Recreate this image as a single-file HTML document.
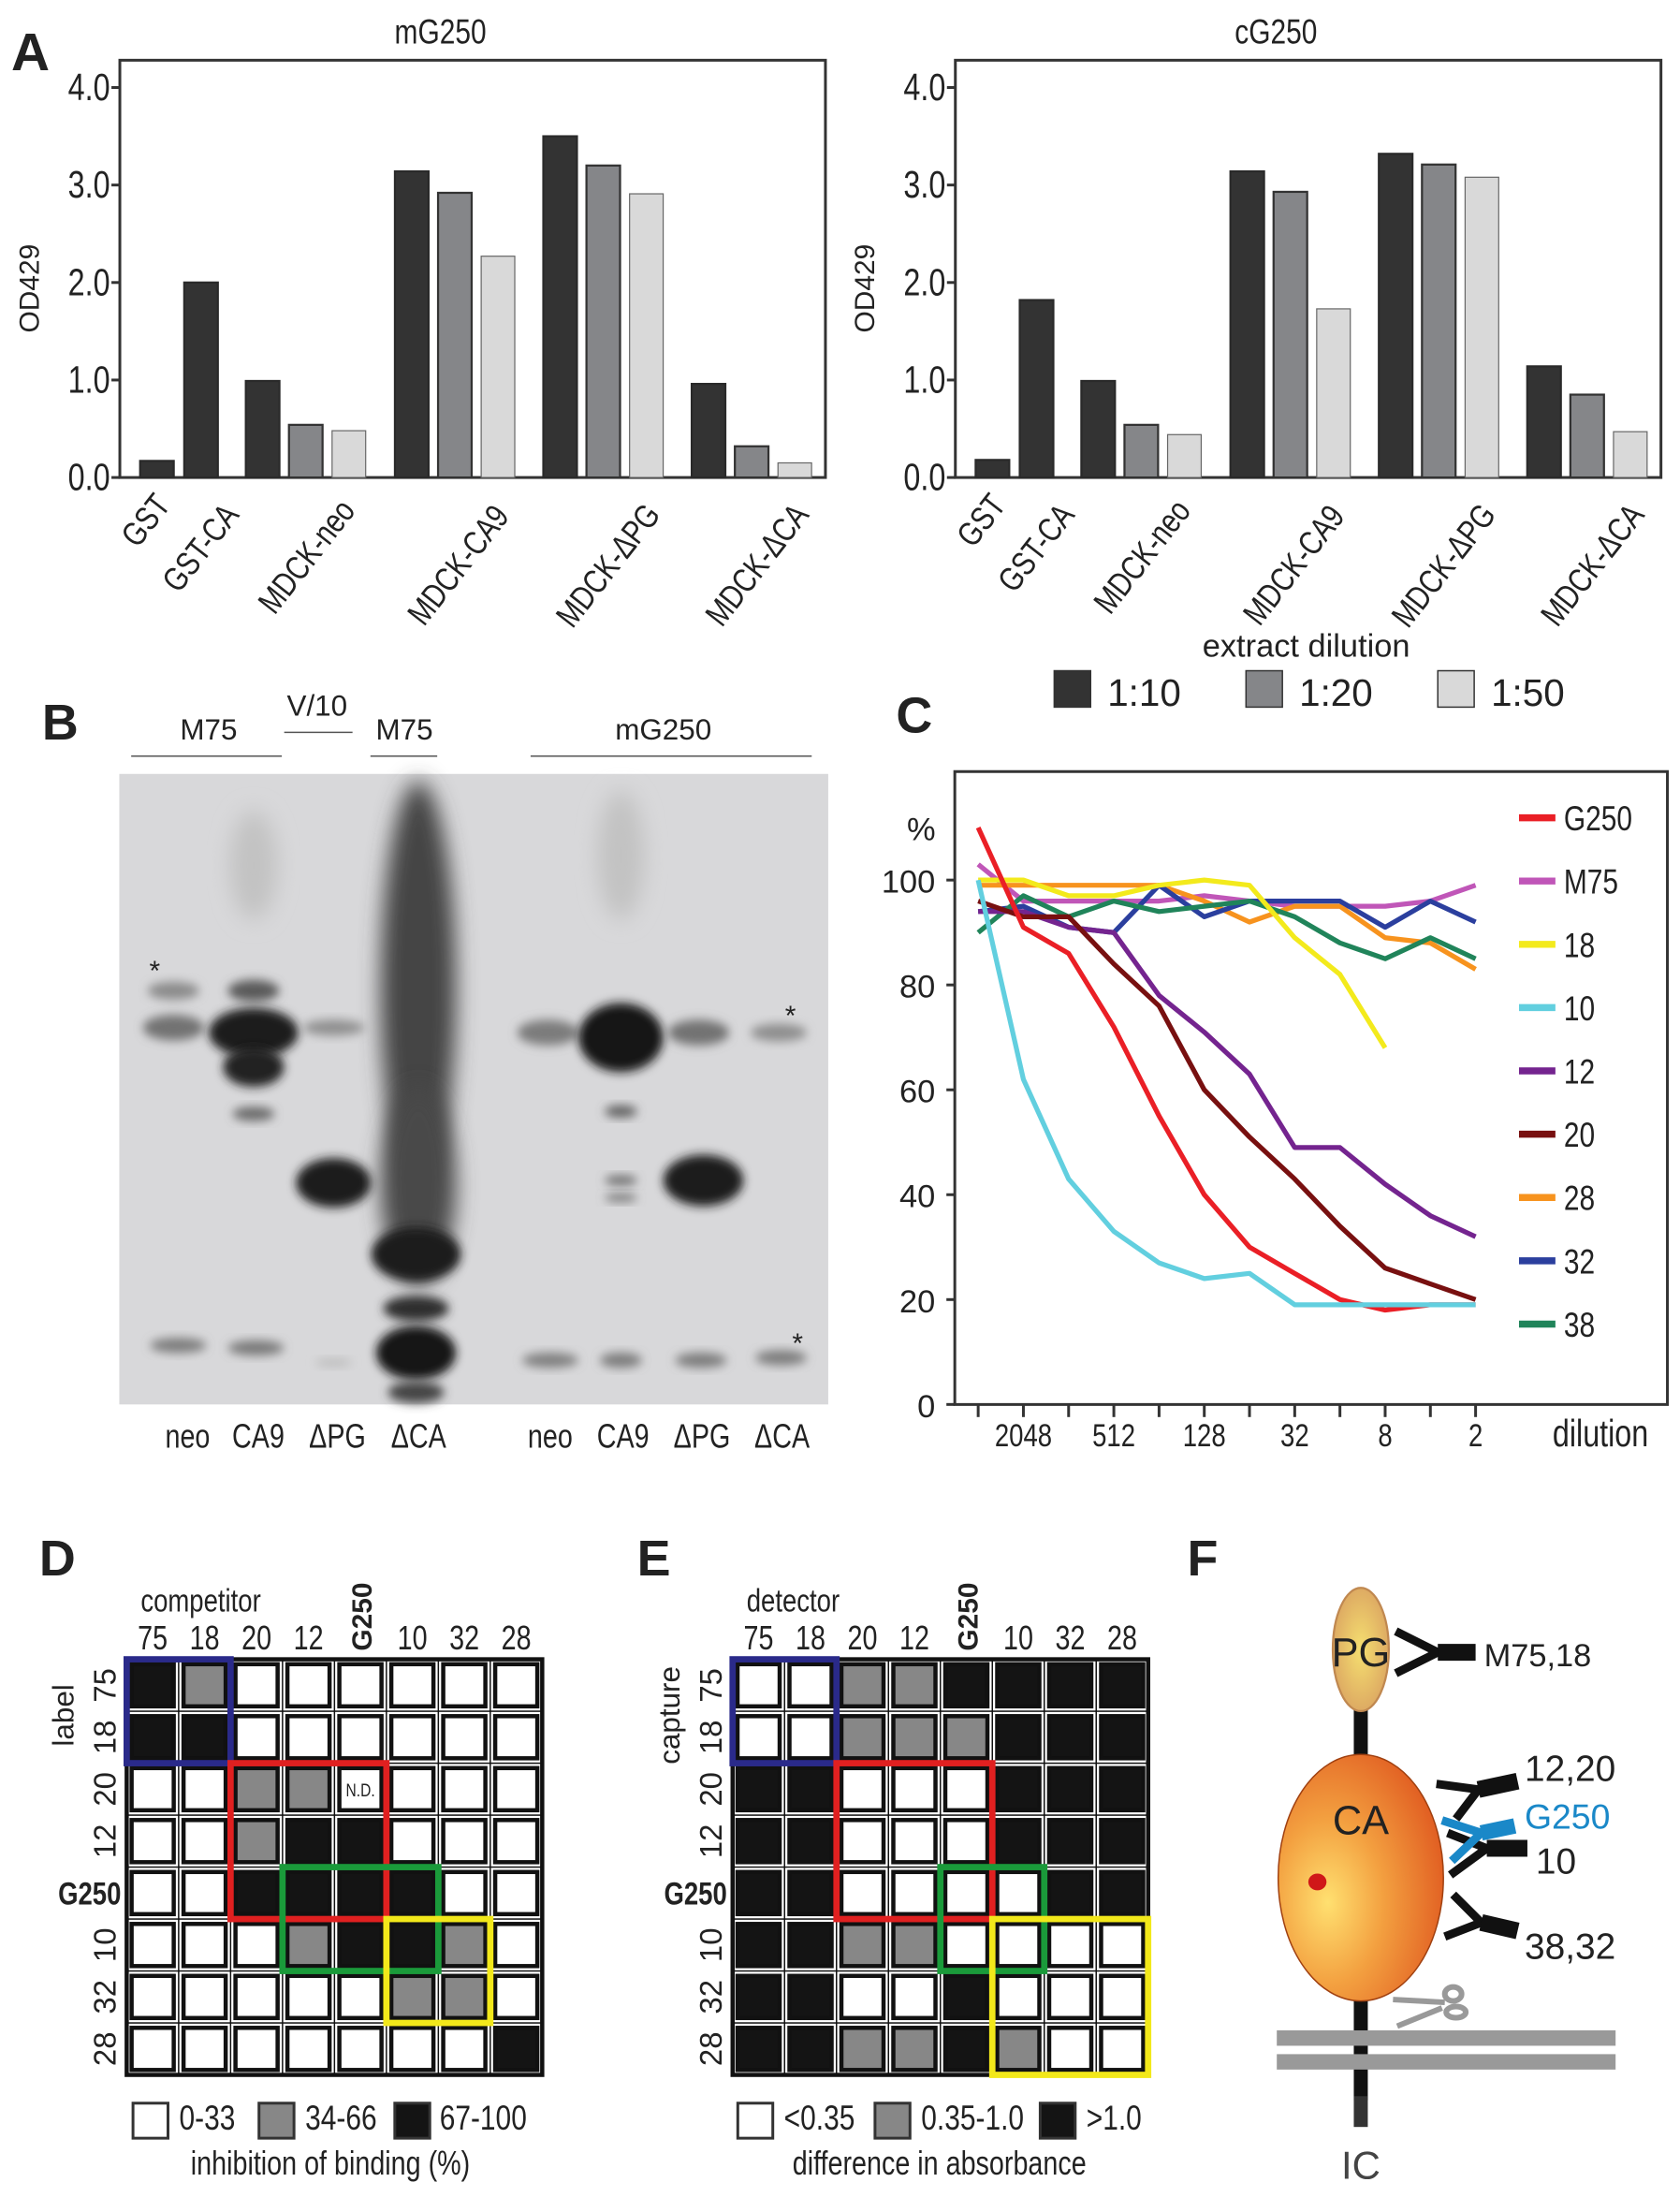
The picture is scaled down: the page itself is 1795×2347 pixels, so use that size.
<!DOCTYPE html>
<html><head><meta charset="utf-8"><style>
html,body{margin:0;padding:0;background:#fff;}
svg{display:block;}
text{font-family:"Liberation Sans",sans-serif;fill:#222;}
</style></head><body>
<svg id="fig" xmlns="http://www.w3.org/2000/svg" width="1795" height="2347" viewBox="0 0 1200 1569">
<defs>
<filter id="blur" x="-50%" y="-50%" width="200%" height="200%"><feGaussianBlur stdDeviation="10"/></filter>
<filter id="blur2" x="-50%" y="-50%" width="200%" height="200%"><feGaussianBlur stdDeviation="22"/></filter>
<radialGradient id="caGrad" cx="0.3" cy="0.6" r="0.75"><stop offset="0" stop-color="#ffe070"/><stop offset="0.45" stop-color="#f3a040"/><stop offset="1" stop-color="#e05a20"/></radialGradient>
<radialGradient id="pgGrad" cx="0.5" cy="0.5" r="0.6"><stop offset="0" stop-color="#f5df70"/><stop offset="1" stop-color="#d9a060"/></radialGradient>
</defs>
<rect width="1200" height="1569" fill="#fff"/>

<text x="8" y="50" font-size="38" font-weight="bold">A</text>
<text x="30" y="528" font-size="36" font-weight="bold">B</text>
<text x="640" y="523" font-size="36" font-weight="bold">C</text>
<text x="28" y="1125" font-size="36" font-weight="bold">D</text>
<text x="455" y="1125" font-size="36" font-weight="bold">E</text>
<text x="848" y="1125" font-size="36" font-weight="bold">F</text>

<g id="panelA"></g>
<g id="panelB"></g>
<g id="panelC"></g>
<g id="panelD"></g>
<g id="panelE"></g>

<g id="panelF">
  <rect x="967" y="1200" width="10" height="300" fill="#111"/>
  <rect x="967" y="1497" width="10" height="22" fill="#333"/>
  <ellipse cx="972" cy="1178" rx="20" ry="44" fill="url(#pgGrad)" stroke="#c08850" stroke-width="1.5"/>
  <ellipse cx="972" cy="1341" rx="59" ry="88" fill="url(#caGrad)" stroke="#a04010" stroke-width="1"/>
  <ellipse cx="941" cy="1344" rx="6.5" ry="6" fill="#d01818"/>
  <rect x="912" y="1450" width="242" height="11" fill="#999"/>
  <rect x="912" y="1467" width="242" height="11" fill="#999"/>
  <g fill="none" stroke="#999" stroke-width="4">
    <path d="M995 1428 L1032 1430 M998 1447 L1030 1434"/>
    <ellipse cx="1038" cy="1424" rx="6" ry="5"/>
    <ellipse cx="1040" cy="1437" rx="7" ry="4"/>
  </g>
  <g stroke="#111" fill="none">
    <path d="M997 1165 L1027 1180 L997 1195" stroke-width="6"/>
    <path d="M1027 1180 L1054 1180" stroke-width="12"/>
  </g>
  <g stroke="#111" fill="none">
    <path d="M1026 1274 L1056 1278 L1040 1299" stroke-width="6"/>
    <path d="M1056 1278 L1084 1272" stroke-width="12"/>
  </g>
  <g stroke="#111" fill="none">
    <path d="M1034 1309 L1062 1320 L1036 1339" stroke-width="6"/>
    <path d="M1062 1320 L1091 1320" stroke-width="12"/>
  </g>
  <g stroke="#1a88c8" fill="none">
    <path d="M1030 1300 L1058 1309 L1037 1329" stroke-width="6"/>
    <path d="M1058 1309 L1082 1304" stroke-width="11"/>
  </g>
  <g stroke="#111" fill="none">
    <path d="M1038 1353 L1058 1373 L1032 1383" stroke-width="6"/>
    <path d="M1058 1373 L1084 1379" stroke-width="12"/>
  </g>
  <text x="972" y="1190" font-size="29" text-anchor="middle" fill="#111">PG</text>
  <text x="972" y="1310" font-size="29" text-anchor="middle" fill="#111">CA</text>
  <text x="1060" y="1190" font-size="23">M75,18</text>
  <text x="1089" y="1272" font-size="26">12,20</text>
  <text x="1089" y="1306" font-size="25" style="fill:#1a88c8">G250</text>
  <text x="1097" y="1338" font-size="26">10</text>
  <text x="1089" y="1399" font-size="26">38,32</text>
  <text x="972" y="1556" font-size="28" text-anchor="middle" style="fill:#444">IC</text>
</g>
</svg>
<script>
var NS='http://www.w3.org/2000/svg';
function mk(parent,tag,attrs,txt){var e=document.createElementNS(NS,tag);for(var k in attrs)e.setAttribute(k,attrs[k]);if(txt!==undefined)e.textContent=txt;parent.appendChild(e);return e;}
// narrow text: emulate condensed font with horizontal scale
function nt(parent,x,y,str,size,anchor,rot,extra){
  var a={x:0,y:0,'font-size':size,'text-anchor':anchor||'start',transform:'translate('+x+','+y+') rotate('+(rot||0)+') scale(0.8,1)'};
  if(extra)for(var k in extra)a[k]=extra[k];
  return mk(parent,'text',a,str);
}

/* ---------- Panel A data ---------- */
var aCategories=['GST','GST-CA','MDCK-neo','MDCK-CA9','MDCK-\u0394PG','MDCK-\u0394CA'];
var aDilutions=['1:10','1:20','1:50'];
var mG250_110=[0.17,2.0,0.99,3.14,3.5,0.96];
var mG250_120=[null,null,0.54,2.92,3.2,0.32];
var mG250_150=[null,null,0.48,2.27,2.91,0.15];
var cG250_110=[0.18,1.82,0.99,3.14,3.32,1.14];
var cG250_120=[null,null,0.54,2.93,3.21,0.85];
var cG250_150=[null,null,0.44,1.73,3.08,0.47];
var aTicks=[0,1,2,3,4];

var pA=document.getElementById('panelA');
var barFill=['#333333','#858689','#d9d9d9'];
var barStroke=['#2a2a2a','#333','#666'];
function drawBarChart(ox,title,s1,s2,s3,nm){
  var g=mk(pA,'g',{});
  
  
  var L=ox,R=ox+504,T=43,B=341;
  function y(v){return B-(v/4)*(B-62.5);}
  var fr=mk(g,'rect',{x:L,y:T,width:R-L,height:B-T,fill:'none',stroke:'#333','stroke-width':2});
  
  
  var t=nt(g,L+229,31,title,25,'middle');
  
  
  aTicks.forEach(function(v){
    var tk=mk(g,'line',{x1:L-6,x2:L,y1:y(v),y2:y(v),stroke:'#333','stroke-width':2});
    
    
    var tl=nt(g,L-7,y(v)+9,v.toFixed(1),27,'end');
    
    
  });
  var yl=mk(g,'text',{x:0,y:0,'font-size':20,'text-anchor':'middle',transform:'translate('+(L-58)+','+(B-135)+') rotate(-90)'},'OD429');
  
  
  var groupStarts=[14.5,46,90,196.5,302.5,408.5];
  var series=[s1,s2,s3];
  for(var c=0;c<aCategories.length;c++){
    for(var s=0;s<3;s++){
      var v=series[s][c]; if(v===null)continue;
      var bx=L+groupStarts[c]+s*30.8;
      var b=mk(g,'rect',{x:bx,y:y(v),width:24,height:B-y(v),fill:barFill[s],stroke:barStroke[s],'stroke-width':s==2?0.8:1.5});
      
      
    }
  }
  var labEnds=[[37,355],[86,362],[169,359],[279,363],[387,362],[493,362]];
  for(var c2=0;c2<aCategories.length;c2++){
    var xl=nt(g,L+labEnds[c2][0],labEnds[c2][1]+6,aCategories[c2],24,'end',-52);
    
    
  }
}
drawBarChart(85.6,'mG250',mG250_110,mG250_120,mG250_150,'mg250-bar-chart');
drawBarChart(682.4,'cG250',cG250_110,cG250_120,cG250_150,'cg250-bar-chart');
var lgA=mk(pA,'g',{});


var lt=mk(lgA,'text',{x:933,y:469,'font-size':23,'text-anchor':'middle'},'extract dilution');


var lgX=[753,890,1027];
for(var i=0;i<3;i++){
  var lb=mk(lgA,'rect',{x:lgX[i],y:479,width:26,height:26,fill:barFill[i],stroke:'#333','stroke-width':1});
  
  
  var ltx=mk(lgA,'text',{x:lgX[i]+38,y:504,'font-size':27},aDilutions[i]);
  
  
}

/* ---------- Panel B gel ---------- */
var pB=document.getElementById('panelB');
var gelHdr=[['M75',149,528,93.7,201.3,540],['V/10',226.5,511,203,251.8,523],['M75',288.8,528,264.6,312.3,540],['mG250',473.8,528,379,579.8,540]];
gelHdr.forEach(function(h){
  var t=mk(pB,'text',{x:h[1],y:h[2],'font-size':21,'text-anchor':'middle'},h[0]);
  
  
  var l=mk(pB,'line',{x1:h[3],x2:h[4],y1:h[5],y2:h[5],stroke:'#555','stroke-width':1});
  
  
});
var gelBg=mk(pB,'rect',{x:85.2,y:552.7,width:506.4,height:450.3,fill:'#d8d8da'});


var gg=mk(pB,'g',{transform:'translate(80.2,494.7) scale(0.3364,0.3518)'});


var bands=[
 [130,605,55,18,'#8a8a8a',1],[130,680,65,26,'#727272',1],[140,1325,60,15,'#7a7a7a',1],
 [300,350,50,110,'#c2c2c2',2],[300,605,55,22,'#5a5a5a',1],[300,690,95,50,'#1a1a1a',1],[300,760,65,40,'#222',1],[300,855,45,14,'#666',1],[305,1330,60,15,'#777',1],
 [470,680,65,16,'#8e8e8e',1],[470,995,80,50,'#1e1e1e',1],[470,1360,40,8,'#bbb',1],
 [650,600,80,420,'#454545',2],[650,1000,80,200,'#4a4a4a',2],[645,1140,95,55,'#1c1c1c',1],[645,1250,70,26,'#2e2e2e',1],[645,1340,85,55,'#161616',1],[645,1420,60,22,'#444',1],
 [925,690,65,26,'#7c7c7c',1],[930,1355,60,15,'#7e7e7e',1],
 [1080,330,50,130,'#c2c2c2',2],[1080,700,90,70,'#171717',1],[1080,850,35,12,'#5c5c5c',1],[1080,990,35,10,'#6a6a6a',1],[1080,1025,35,9,'#7a7a7a',1],[1080,1355,45,15,'#7a7a7a',1],
 [1245,690,65,26,'#727272',1],[1255,990,85,52,'#1c1c1c',1],[1250,1355,55,15,'#7a7a7a',1],
 [1415,690,60,18,'#8e8e8e',1],[1420,1350,55,15,'#7a7a7a',1]
];
bands.forEach(function(b){
  var e=mk(gg,'ellipse',{cx:b[0],cy:b[1],rx:b[2],ry:b[3],fill:b[4],filter:b[5]==2?'url(#blur2)':'url(#blur)'});
  
  
});
[[110.5,700],[564.6,732],[569.7,966]].forEach(function(s){
  var t=mk(pB,'text',{x:s[0],y:s[1],'font-size':20,'text-anchor':'middle'},'*');
  
  
});
var laneLbl=[['neo',134],['CA9',184.5],['\u0394PG',241],['\u0394CA',299],['neo',393],['CA9',445],['\u0394PG',501.4],['\u0394CA',558.6]];
laneLbl.forEach(function(l){
  var t=nt(pB,l[1],1034,l[0],24,'middle');
  
  
});

/* ---------- Panel C data ---------- */
var cDilutionLog2=[12,11,10,9,8,7,6,5,4,3,2,1];
var cTickLabels=['2048','512','128','32','8','2'];
var cTickLog2=[11,9,7,5,3,1];
var cYTicks=[0,20,40,60,80,100];
var cNames=['G250','M75','18','10','12','20','28','32','38'];
var cColors=['#ea1f26','#c056b8','#f3ea1c','#62cfdf','#74248f','#781010','#f7931e','#2b3f9e','#20845a'];
var sG250=[110,91,86,72,55,40,30,25,20,18,19,19];
var sM75=[103,96,96,96,96,97,96,95,95,95,96,99];
var s18=[100,100,97,97,99,100,99,89,82,68];
var s10=[100,62,43,33,27,24,25,19,19,19,19,19];
var s12=[94,94,91,90,78,71,63,49,49,42,36,32];
var s20=[96,93,93,84,76,60,51,43,34,26,23,20];
var s28=[99,99,99,99,99,96,92,95,95,89,88,83];
var s32=[94,95,91,90,99,93,96,96,96,91,96,92];
var s38=[90,97,93,96,94,95,96,93,88,85,89,85];
var cSeries=[sG250,sM75,s18,s10,s12,s20,s28,s32,s38];

var pC=document.getElementById('panelC');
function cx(l2){return 1054-(l2-1)*32.3;}
function cy(v){return 1003-v*3.745;}
var cf=mk(pC,'path',{d:'M682 551 H1191 V1003 H682 Z',fill:'none',stroke:'#333','stroke-width':2});


cYTicks.forEach(function(v){
  var tk=mk(pC,'line',{x1:676,x2:682,y1:cy(v),y2:cy(v),stroke:'#333','stroke-width':2});
  
  
  var tl=mk(pC,'text',{x:668,y:cy(v)+9,'font-size':23,'text-anchor':'end'},String(v));
  
  
});
var pct=mk(pC,'text',{x:658,y:600,'font-size':23,'text-anchor':'middle'},'%');


cDilutionLog2.forEach(function(l2){
  var tk=mk(pC,'line',{x1:cx(l2),x2:cx(l2),y1:1003,y2:1012,stroke:'#333','stroke-width':2});
  
  
});
cTickLabels.forEach(function(lab,i){
  var t=nt(pC,cx(cTickLog2[i]),1033,lab,23,'middle');
  
  
});
var dl=nt(pC,1109,1033,'dilution',27,'start');


var drawOrder=[1,6,7,8,2,4,5,0,3];
drawOrder.forEach(function(si){
  var d='';
  cSeries[si].forEach(function(v,i){d+=(i?' L':'M')+cx(cDilutionLog2[i]).toFixed(1)+' '+cy(v).toFixed(1);});
  var p=mk(pC,'path',{d:d,fill:'none',stroke:cColors[si],'stroke-width':3.5,'stroke-linejoin':'round'});
  
  
});
cNames.forEach(function(n,i){
  var y=584+i*45.2;
  var l=mk(pC,'line',{x1:1085,x2:1111,y1:y,y2:y,stroke:cColors[i],'stroke-width':5});
  
  
  var t=nt(pC,1117,y+9,n,25,'start');
  
  
});

/* ---------- Panels D & E data ---------- */
var mLabels=['75','18','20','12','G250','10','32','28'];
var dValues=[
 [2,1,0,0,0,0,0,0],
 [2,2,0,0,0,0,0,0],
 [0,0,1,1,-1,0,0,0],
 [0,0,1,2,2,0,0,0],
 [0,0,2,2,2,2,0,0],
 [0,0,0,1,2,2,1,0],
 [0,0,0,0,0,1,1,0],
 [0,0,0,0,0,0,0,2]];
var eValues=[
 [0,0,1,1,2,2,2,2],
 [0,0,1,1,1,2,2,2],
 [2,2,0,0,0,2,2,2],
 [2,2,0,0,0,2,2,2],
 [2,2,0,0,0,0,2,2],
 [2,2,1,1,0,0,0,0],
 [2,2,0,0,2,0,0,0],
 [2,2,1,1,2,1,0,0]];
var dLegend=['0-33','34-66','67-100'];
var eLegend=['<0.35','0.35-1.0','>1.0'];
var cellFill=['#ffffff','#878787','#141414'];

function drawMatrix(panelId,L,vals,colTitle,rowTitle,boxes,legendLabels,legendX,legendTextX,caption){
  var P=document.getElementById(panelId);
  var T=1185,cs=37.1,N=8;
  var ct=nt(P,L+10,1151,colTitle,23,'start');
  
  
  var rt=mk(P,'text',{x:0,y:0,'font-size':21,'text-anchor':'middle',transform:'translate('+(L-38)+',1225) rotate(-90)'},rowTitle);
  
  
  mLabels.forEach(function(lab,i){
    var x=L+cs*(i+0.5);
    var t;
    if(lab==='G250'){
      t=mk(P,'text',{x:0,y:0,'font-size':20,'font-weight':'bold','text-anchor':'start',transform:'translate('+(x+8)+',1179) rotate(-90)'},lab);
    } else {
      t=nt(P,x,1178,lab,24,'middle');
    }
    
    
    var y=T+cs*(i+0.5);
    var r;
    if(lab==='G250'){
      r=nt(P,L-4,y+8,lab,23,'end',0,{'font-weight':'bold'});
    } else {
      r=mk(P,'text',{x:0,y:0,'font-size':22,'text-anchor':'middle',transform:'translate('+(L-8)+','+y+') rotate(-90)'},lab);
    }
    
    
  });
  var bg=mk(P,'rect',{x:L,y:T,width:cs*N,height:cs*N,fill:'#111'});
  
  
  for(var r2=0;r2<N;r2++)for(var c=0;c<N;c++){
    var v=vals[r2][c];
    var x0=L+c*cs,y0=T+r2*cs;
    var sep=mk(P,'rect',{x:x0+0.5,y:y0+0.5,width:cs-1,height:cs-1,fill:'#fff'});
    
    
    var o=mk(P,'rect',{x:x0+2,y:y0+2,width:cs-4,height:cs-4,fill:'#111'});
    
    
    var cell=mk(P,'rect',{x:x0+5,y:y0+5,width:cs-10,height:cs-10,fill:cellFill[v<0?0:v]});
    
    
    if(v<0){
      var nd=nt(P,x0+cs/2,y0+cs/2+5,'N.D.',13,'middle');
      
      
    }
  }
  var fr=mk(P,'rect',{x:L,y:T,width:cs*N,height:cs*N,fill:'none',stroke:'#111','stroke-width':3});
  
  
  boxes.forEach(function(b){
    var bx=mk(P,'rect',{x:L+b[1]*cs,y:T+b[2]*cs,width:b[3]*cs,height:b[4]*cs,fill:'none',stroke:b[0],'stroke-width':4.5});
    
    
  });
  for(var k=0;k<3;k++){
    var sw=mk(P,'rect',{x:legendX[k],y:1502,width:25,height:25,fill:cellFill[k],stroke:'#333','stroke-width':2});
    
    
    var lt=nt(P,legendTextX[k],1521,legendLabels[k],25,'start');
    
    
  }
  var cap=nt(P,caption[0],1553,caption[1],24,'middle');
  
  
}
drawMatrix('panelD',90.5,dValues,'competitor','label',
  [['#2a2a8a',0,0,2,2],['#e02020',2,2,3,3],['#1a9a3a',3,4,3,2],['#f2e81a',5,5,2,2]],
  dLegend,[95,185,282],[128,218,314],[236,'inhibition of binding (%)']);
drawMatrix('panelE',523.3,eValues,'detector','capture',
  [['#2a2a8a',0,0,2,2],['#e02020',2,2,3,3],['#1a9a3a',4,4,2,2],['#f2e81a',5,5,3,3]],
  eLegend,[527,625,743],[560,658,776],[671,'difference in absorbance']);
</script>
</body></html>
